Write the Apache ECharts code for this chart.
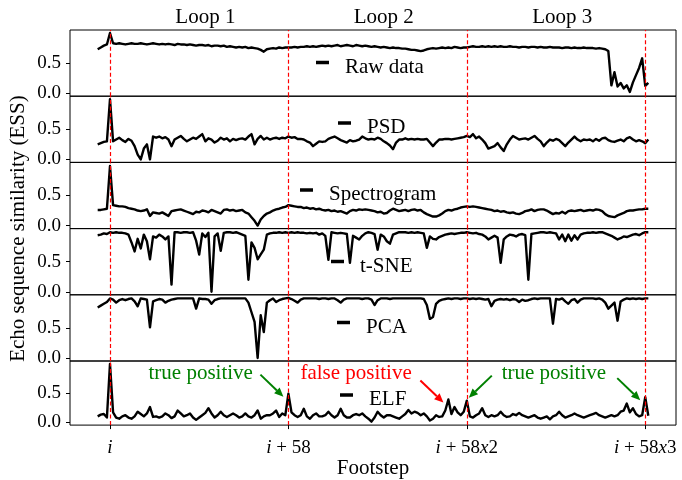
<!DOCTYPE html>
<html>
<head>
<meta charset="utf-8">
<script src="https://cdn.jsdelivr.net/npm/echarts@6/dist/echarts.min.js"></script>
<style>
  html, body { margin: 0; padding: 0; background: #fff; }
  #chart { width: 682px; height: 480px; }
</style>
</head>
<body>
<div id="chart"></div>
<script>
// footstep index of the first sample (relative to i)
const firstStep = -4;
const loopMarks = [0, 58, 116, 174];
const loopTickLabels = ["{it|i}", "{it|i} + 58", "{it|i} + 58{it|x}2", "{it|i} + 58{it|x}3"];
const loopTitles = ["Loop 1", "Loop 2", "Loop 3"];
const seriesNames = ["Raw data", "PSD", "Spectrogram", "t-SNE", "PCA", "ELF"];
const yTicks = [0, 0.5];

const rawData = [
  0.73, 0.76, 0.79, 0.81, 1.00, 0.83, 0.82, 0.83, 0.82, 0.81,
  0.82, 0.83, 0.82, 0.82, 0.83, 0.82, 0.81, 0.82, 0.83, 0.82,
  0.81, 0.82, 0.81, 0.82, 0.81, 0.80, 0.82, 0.81, 0.81, 0.80,
  0.81, 0.80, 0.79, 0.80, 0.80, 0.79, 0.80, 0.78, 0.79, 0.79,
  0.78, 0.79, 0.77, 0.78, 0.77, 0.76, 0.77, 0.76, 0.77, 0.75,
  0.76, 0.75, 0.74, 0.72, 0.69, 0.73, 0.74, 0.75, 0.74, 0.76,
  0.75, 0.76, 0.76, 0.76, 0.77, 0.76, 0.77, 0.77, 0.78, 0.77,
  0.78, 0.77, 0.78, 0.79, 0.78, 0.79, 0.78, 0.79, 0.80, 0.78,
  0.79, 0.80, 0.79, 0.78, 0.80, 0.79, 0.78, 0.79, 0.78, 0.77,
  0.78, 0.77, 0.76, 0.77, 0.76, 0.75, 0.76, 0.75, 0.75, 0.74,
  0.74, 0.73, 0.72, 0.72, 0.71, 0.70, 0.71, 0.73, 0.74, 0.75,
  0.74, 0.75, 0.76, 0.75, 0.76, 0.75, 0.77, 0.76, 0.75, 0.76,
  0.76, 0.77, 0.78, 0.77, 0.77, 0.78, 0.77, 0.78, 0.77, 0.78,
  0.77, 0.78, 0.77, 0.77, 0.78, 0.77, 0.77, 0.76, 0.77, 0.77,
  0.76, 0.77, 0.77, 0.76, 0.77, 0.76, 0.76, 0.77, 0.76, 0.76,
  0.76, 0.75, 0.76, 0.76, 0.75, 0.76, 0.75, 0.75, 0.76, 0.75,
  0.75, 0.75, 0.74, 0.75, 0.74, 0.73, 0.70, 0.13, 0.35, 0.11,
  0.17, 0.08, 0.13, 0.02, 0.18, 0.30, 0.42, 0.58, 0.12, 0.17
];
const psdData = [
  0.25, 0.27, 0.29, 0.30, 1.00, 0.30, 0.33, 0.36, 0.32, 0.29,
  0.34, 0.31, 0.22, 0.08, 0.00, 0.18, 0.25, 0.00, 0.38, 0.36,
  0.38, 0.35, 0.37, 0.33, 0.22, 0.33, 0.36, 0.39, 0.34, 0.30,
  0.33, 0.36, 0.34, 0.38, 0.42, 0.30, 0.35, 0.33, 0.28, 0.31,
  0.36, 0.33, 0.35, 0.30, 0.34, 0.32, 0.34, 0.35, 0.33, 0.38,
  0.42, 0.25, 0.34, 0.39, 0.33, 0.36, 0.33, 0.35, 0.36, 0.34,
  0.36, 0.35, 0.38, 0.36, 0.37, 0.34, 0.34, 0.33, 0.30, 0.28,
  0.22, 0.26, 0.30, 0.29, 0.30, 0.34, 0.36, 0.38, 0.35, 0.32,
  0.30, 0.28, 0.32, 0.30, 0.31, 0.33, 0.38, 0.35, 0.33, 0.34,
  0.33, 0.36, 0.34, 0.30, 0.27, 0.23, 0.17, 0.28, 0.33, 0.33,
  0.35, 0.33, 0.34, 0.33, 0.34, 0.33, 0.33, 0.34, 0.28, 0.22,
  0.28, 0.33, 0.33, 0.34, 0.34, 0.33, 0.34, 0.35, 0.36, 0.37,
  0.39, 0.37, 0.42, 0.35, 0.38, 0.33, 0.27, 0.18, 0.20, 0.22,
  0.27, 0.20, 0.14, 0.25, 0.33, 0.39, 0.36, 0.33, 0.34, 0.35,
  0.33, 0.36, 0.39, 0.34, 0.30, 0.22, 0.28, 0.33, 0.31, 0.34,
  0.32, 0.27, 0.22, 0.28, 0.33, 0.38, 0.33, 0.30, 0.33, 0.32,
  0.33, 0.30, 0.34, 0.31, 0.35, 0.36, 0.32, 0.30, 0.29, 0.31,
  0.33, 0.30, 0.35, 0.37, 0.33, 0.30, 0.32, 0.30, 0.27, 0.33
];
const spectrogramData = [
  0.26, 0.26, 0.27, 0.28, 0.99, 0.34, 0.33, 0.32, 0.32, 0.31,
  0.29, 0.28, 0.27, 0.25, 0.24, 0.25, 0.27, 0.16, 0.22, 0.21,
  0.20, 0.22, 0.19, 0.16, 0.24, 0.25, 0.26, 0.27, 0.25, 0.23,
  0.21, 0.19, 0.23, 0.22, 0.25, 0.24, 0.22, 0.26, 0.24, 0.22,
  0.20, 0.26, 0.27, 0.25, 0.26, 0.24, 0.25, 0.26, 0.22, 0.20,
  0.14, 0.08, 0.00, 0.10, 0.16, 0.20, 0.22, 0.25, 0.27, 0.28,
  0.30, 0.31, 0.34, 0.33, 0.32, 0.31, 0.31, 0.29, 0.30, 0.28,
  0.29, 0.27, 0.28, 0.26, 0.25, 0.26, 0.24, 0.25, 0.23, 0.24,
  0.22, 0.20, 0.24, 0.26, 0.25, 0.27, 0.26, 0.27, 0.26, 0.25,
  0.24, 0.22, 0.23, 0.20, 0.21, 0.25, 0.28, 0.26, 0.24, 0.25,
  0.26, 0.24, 0.26, 0.27, 0.25, 0.26, 0.22, 0.19, 0.17, 0.15,
  0.15, 0.17, 0.20, 0.24, 0.26, 0.25, 0.27, 0.28, 0.30, 0.31,
  0.32, 0.31, 0.32, 0.31, 0.30, 0.29, 0.28, 0.27, 0.26, 0.24,
  0.25, 0.23, 0.24, 0.22, 0.21, 0.22, 0.20, 0.19, 0.21, 0.24,
  0.25, 0.27, 0.24, 0.26, 0.27, 0.27, 0.25, 0.22, 0.19, 0.21,
  0.20, 0.23, 0.20, 0.24, 0.25, 0.24, 0.25, 0.26, 0.24, 0.25,
  0.26, 0.25, 0.27, 0.26, 0.24, 0.19, 0.16, 0.15, 0.14, 0.17,
  0.19, 0.21, 0.24, 0.25, 0.25, 0.26, 0.27, 0.27, 0.28, 0.28
];
const tsneData = [
  0.94, 0.95, 0.97, 0.96, 0.99, 0.98, 0.99, 0.98, 0.98, 0.97,
  0.95, 0.82, 0.67, 0.88, 0.72, 0.95, 0.84, 0.54, 0.92, 0.90,
  0.95, 0.92, 0.87, 0.92, 0.12, 0.99, 0.99, 0.98, 0.99, 0.99,
  0.98, 0.99, 0.85, 0.62, 0.97, 0.91, 0.98, 0.00, 0.92, 0.97,
  0.68, 0.98, 0.99, 0.99, 0.98, 0.99, 0.97, 0.95, 0.93, 0.20,
  0.82, 0.73, 0.54, 0.62, 0.70, 0.95, 0.97, 0.98, 0.98, 0.99,
  0.98, 0.99, 0.98, 0.99, 0.98, 0.99, 0.98, 0.98, 0.97, 0.98,
  0.97, 0.98, 0.95, 0.97, 0.93, 0.53, 0.99, 0.98, 0.97, 0.98,
  0.97, 0.96, 0.48, 0.93, 0.90, 0.87, 0.93, 0.97, 0.99, 0.98,
  0.96, 0.70, 0.95, 0.92, 0.84, 0.80, 0.95, 0.97, 0.99, 0.99,
  0.99, 0.98, 0.99, 0.98, 0.99, 0.98, 0.97, 0.73, 0.92, 0.88,
  0.87, 0.91, 0.93, 0.95, 0.96, 0.97, 0.96, 0.97, 0.98, 0.98,
  0.99, 0.98, 0.97, 0.98, 0.96, 0.95, 0.92, 0.87, 0.90, 0.93,
  0.90, 0.48, 0.87, 0.92, 0.95, 0.94, 0.92, 0.95, 0.96, 0.94,
  0.20, 0.96, 0.97, 0.98, 0.99, 0.99, 0.98, 0.99, 0.98, 0.97,
  0.87, 0.95, 0.84, 0.95, 0.85, 0.94, 0.87, 0.95, 0.97, 0.98,
  0.98, 0.99, 0.98, 0.99, 0.99, 0.97, 0.95, 0.93, 0.90, 0.87,
  0.89, 0.92, 0.91, 0.93, 0.95, 0.96, 0.94, 0.97, 0.99, 0.99
];
const pcaData = [
  0.84, 0.87, 0.90, 0.93, 0.99, 0.97, 0.92, 0.96, 0.98, 0.96,
  0.98, 0.99, 0.94, 0.86, 0.99, 0.98, 0.97, 0.51, 0.94, 0.96,
  0.98, 0.97, 0.92, 0.95, 0.97, 0.98, 0.99, 0.99, 0.99, 0.99,
  0.99, 0.99, 0.82, 0.99, 0.98, 0.98, 0.97, 0.90, 0.96, 0.98,
  0.99, 0.99, 0.99, 0.99, 0.99, 0.99, 0.99, 0.99, 0.99, 0.92,
  0.76, 0.60, 0.00, 0.71, 0.43, 0.92, 0.96, 0.99, 0.93, 0.96,
  0.98, 0.99, 1.00, 0.98, 0.95, 0.92, 0.97, 0.99, 0.99, 0.99,
  0.99, 0.99, 0.98, 0.99, 0.99, 0.98, 0.99, 0.99, 0.96, 0.92,
  0.97, 0.99, 0.99, 0.99, 0.99, 0.99, 0.98, 0.99, 0.99, 0.97,
  0.88, 0.96, 0.99, 0.99, 0.99, 0.98, 0.99, 0.99, 0.99, 0.99,
  0.99, 0.99, 0.99, 0.99, 0.99, 0.99, 0.98, 0.88, 0.65, 0.68,
  0.90, 0.95, 0.97, 0.98, 0.99, 0.98, 0.99, 0.99, 0.98, 0.99,
  0.99, 0.98, 0.99, 0.98, 0.99, 0.98, 0.97, 0.98, 0.86, 0.95,
  0.97, 0.98, 0.97, 0.98, 0.96, 0.98, 0.97, 0.93, 0.97, 0.95,
  0.96, 0.98, 0.99, 0.98, 0.99, 0.99, 0.99, 0.99, 0.57, 0.98,
  0.97, 0.99, 0.94, 0.90, 0.96, 0.98, 0.92, 0.97, 0.99, 0.99,
  0.99, 0.99, 0.98, 0.99, 0.97, 0.92, 0.82, 0.87, 0.92, 0.62,
  0.94, 0.97, 0.99, 0.98, 0.99, 0.98, 0.99, 0.98, 0.99, 0.99
];
const elfData = [
  0.10, 0.13, 0.14, 0.08, 1.00, 0.17, 0.08, 0.06, 0.10, 0.12,
  0.08, 0.06, 0.10, 0.18, 0.14, 0.10, 0.15, 0.26, 0.09, 0.10,
  0.08, 0.10, 0.15, 0.12, 0.07, 0.10, 0.20, 0.15, 0.10, 0.12,
  0.15, 0.08, 0.04, 0.08, 0.12, 0.16, 0.24, 0.15, 0.08, 0.12,
  0.18, 0.12, 0.09, 0.12, 0.15, 0.12, 0.08, 0.10, 0.15, 0.10,
  0.08, 0.12, 0.20, 0.06, 0.10, 0.12, 0.12, 0.15, 0.20, 0.09,
  0.15, 0.12, 0.49, 0.17, 0.12, 0.09, 0.12, 0.23, 0.10, 0.06,
  0.12, 0.15, 0.10, 0.10, 0.12, 0.18, 0.12, 0.08, 0.12, 0.23,
  0.12, 0.08, 0.08, 0.12, 0.14, 0.12, 0.15, 0.10, 0.06, 0.01,
  0.08, 0.18, 0.12, 0.08, 0.12, 0.12, 0.10, 0.08, 0.06, 0.10,
  0.14, 0.21, 0.15, 0.18, 0.16, 0.12, 0.15, 0.10, 0.03, 0.06,
  0.12, 0.09, 0.10, 0.20, 0.39, 0.14, 0.26, 0.17, 0.12, 0.18,
  0.37, 0.10, 0.08, 0.12, 0.15, 0.24, 0.12, 0.09, 0.12, 0.10,
  0.12, 0.18, 0.12, 0.09, 0.10, 0.14, 0.12, 0.16, 0.12, 0.10,
  0.08, 0.10, 0.12, 0.08, 0.06, 0.08, 0.10, 0.05, 0.10, 0.12,
  0.18, 0.12, 0.08, 0.10, 0.12, 0.15, 0.12, 0.10, 0.08, 0.10,
  0.12, 0.14, 0.16, 0.12, 0.10, 0.08, 0.10, 0.12, 0.10, 0.12,
  0.18, 0.20, 0.32, 0.17, 0.24, 0.14, 0.10, 0.12, 0.43, 0.11
];

// annotations on the ELF panel: label, colour, text centre (step), peak step, arrow direction
const annotations = [
  { text: "true positive", color: "#008000", at: 29.5, peak: 58, dir: 1 },
  { text: "false positive", color: "#ff0000", at: 80, peak: 110, dir: 1 },
  { text: "true positive", color: "#008000", at: 144.3, peak: 116, dir: -1 },
  { text: "true positive", color: "#008000", at: 144.3, peak: 174, dir: 1 },
];

const allData = [rawData, psdData, spectrogramData, tsneData, pcaData, elfData];
const font = "Liberation Serif";
const fs = 21;      // labels, legend, titles
const tickFs = 19;  // tick labels
const panelTop = 30, panelH = 66.2;
const legendPos = [[316, 63.5], [338, 124], [300, 191], [331, 262.5], [337, 323.5], [340, 396]];

const chart = echarts.init(document.getElementById("chart"));

const grids = [], xAxes = [], yAxes = [], series = [], legends = [];
allData.forEach((vals, g) => {
  const last = g === allData.length - 1;
  grids.push({
    left: 70, right: 6, top: panelTop + g * panelH, height: panelH,
    show: true, borderColor: "#000", borderWidth: 1, backgroundColor: "transparent",
  });
  xAxes.push({
    type: "value", gridIndex: g, min: -13, max: 184,
    splitLine: { show: false },
    axisLine: { show: false, onZero: false },
    axisTick: { show: last, customValues: loopMarks, length: 4, lineStyle: { color: "#000" } },
    axisLabel: {
      show: last, customValues: loopMarks, margin: 13,
      fontFamily: font, fontSize: tickFs, color: "#000",
      formatter: (v) => loopTickLabels[loopMarks.indexOf(v)],
      rich: { it: { fontStyle: "italic", fontFamily: font, fontSize: tickFs, color: "#000" } },
    },
    name: last ? "Footstep" : "", nameLocation: "middle", nameGap: 32,
    nameTextStyle: { fontFamily: font, fontSize: fs, color: "#000" },
  });
  yAxes.push({
    type: "value", gridIndex: g, min: -0.05, max: 1.05,
    splitLine: { show: false },
    axisLine: { show: false, onZero: false },
    axisTick: { show: true, customValues: yTicks, length: 4, lineStyle: { color: "#000" } },
    axisLabel: {
      customValues: yTicks, margin: 9, fontFamily: font, fontSize: tickFs, color: "#000",
      formatter: (v) => v.toFixed(1),
    },
  });
  series.push({
    name: seriesNames[g], type: "line", xAxisIndex: g, yAxisIndex: g,
    data: vals.map((v, j) => [firstStep + j, v]),
    showSymbol: false, symbol: "none",
    lineStyle: { color: "#000", width: 2.4, join: "round" },
    itemStyle: { color: "#000" },
    markLine: {
      silent: true, symbol: "none", label: { show: false },
      lineStyle: { color: "#ff0000", type: [4, 2.5], width: 1.2 },
      data: loopMarks.map((m) => ({ xAxis: m })),
    },
  });
  // a tall blank token lowers the label a little below the handle, as in the figure
  legends.push({
    data: [seriesNames[g]], left: legendPos[g][0], top: legendPos[g][1] - 11.5,
    padding: 0, icon: "rect", itemWidth: 13, itemHeight: 3.5, selectedMode: false,
    formatter: (name) => "{s| }{t|" + name + "}",
    textStyle: {
      fontFamily: font, fontSize: fs, color: "#000",
      rich: {
        s: { width: 11, lineHeight: 30, fontSize: fs },
        t: { fontFamily: font, fontSize: fs, lineHeight: 22, color: "#000", verticalAlign: "bottom" },
      },
    },
  });
});

chart.setOption({
  animation: false,
  backgroundColor: "#fff",
  grid: grids, xAxis: xAxes, yAxis: yAxes, series: series, legend: legends,
});

// text and arrows placed through the axes
const graphics = [];
graphics.push({
  type: "text", x: 18, y: panelTop + 3 * panelH, rotation: Math.PI / 2,
  style: { text: "Echo sequence similarity (ESS)", fontFamily: font, fontSize: fs, fill: "#000", align: "center", verticalAlign: "middle" },
});
loopTitles.forEach((t, n) => {
  const p = chart.convertToPixel({ gridIndex: 0 }, [(loopMarks[n] + loopMarks[n + 1]) / 2 + 2, 0]);
  graphics.push({
    type: "text", x: p[0], y: 17,
    style: { text: t, fontFamily: font, fontSize: fs, fill: "#000", align: "center", verticalAlign: "middle" },
  });
});
const drawn = {};
annotations.forEach((a) => {
  const key = a.text + a.at;
  if (!drawn[key]) {
    drawn[key] = true;
    const tp = chart.convertToPixel({ gridIndex: 5 }, [a.at, 0.84]);
    graphics.push({
      type: "text", x: tp[0], y: tp[1],
      style: { text: a.text, fontFamily: font, fontSize: fs, fill: a.color, align: "center", verticalAlign: "middle" },
    });
  }
  const pk = chart.convertToPixel({ gridIndex: 5 }, [a.peak, elfData[a.peak - firstStep]]);
  const head = a.dir > 0 ? [pk[0] - 5, pk[1] + 3] : [pk[0] + 2, pk[1] - 3];
  const tail = [head[0] - a.dir * 23, head[1] - 22];
  const ang = Math.atan2(head[1] - tail[1], head[0] - tail[0]);
  const hl = 9, hw = 4;
  const base = [head[0] - hl * Math.cos(ang), head[1] - hl * Math.sin(ang)];
  graphics.push({
    type: "line", shape: { x1: tail[0], y1: tail[1], x2: base[0], y2: base[1] },
    style: { stroke: a.color, lineWidth: 2 },
  });
  graphics.push({
    type: "polygon",
    shape: { points: [
      head,
      [base[0] + hw * Math.sin(ang), base[1] - hw * Math.cos(ang)],
      [base[0] - hw * Math.sin(ang), base[1] + hw * Math.cos(ang)],
    ] },
    style: { fill: a.color },
  });
});
chart.setOption({ graphic: graphics });
</script>
</body>
</html>
